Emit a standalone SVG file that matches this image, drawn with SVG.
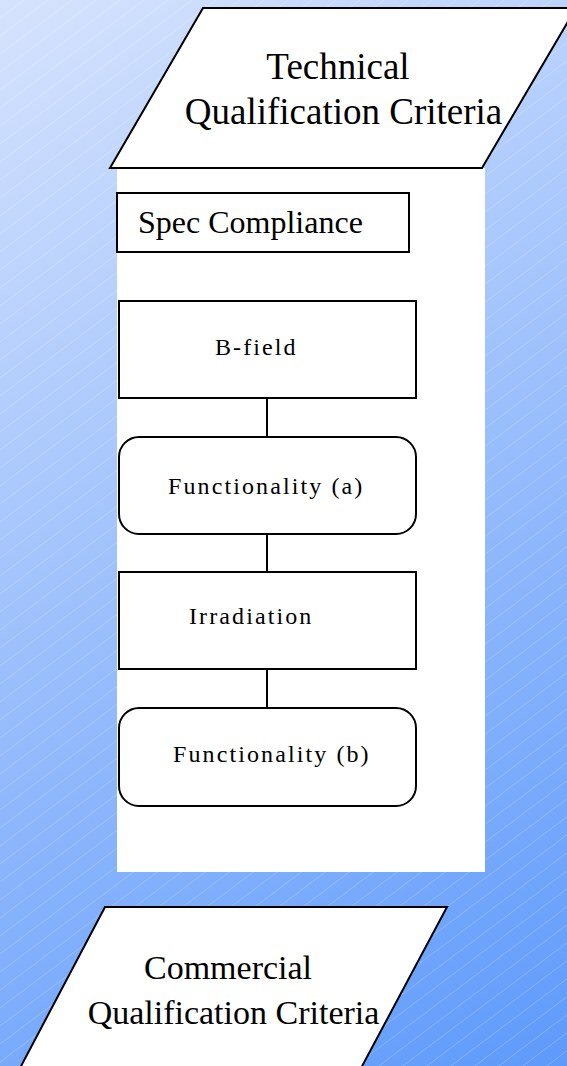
<svg xmlns="http://www.w3.org/2000/svg" width="567" height="1066" viewBox="0 0 567 1066">
<defs>
<linearGradient id="bg" gradientUnits="userSpaceOnUse" x1="0" y1="0" x2="567" y2="1066">
<stop offset="0" stop-color="#d6e3fd"/>
<stop offset="1" stop-color="#5e9afb"/>
</linearGradient>
<pattern id="hatch" patternUnits="userSpaceOnUse" width="24" height="18">
<line x1="-24" y1="36" x2="48" y2="-18" stroke="#ffffff" stroke-opacity="0.3" stroke-width="0.7"/>
</pattern>
<style>
.shape{fill:#ffffff;stroke:#000000;stroke-width:2}
.small{font-size:24px;letter-spacing:2.1px}
.conn{stroke:#000000;stroke-width:2;fill:none}
</style>
</defs>
<rect x="0" y="0" width="567" height="1066" fill="url(#bg)"/>
<rect x="0" y="0" width="567" height="1066" fill="url(#hatch)"/>
<rect x="117" y="168" width="368" height="704" fill="#ffffff"/>

<g font-family="'Liberation Serif', 'DejaVu Serif', serif" fill="#000000">
<g id="technical">
<polygon class="shape" points="203,8 576,8 482,168 110,168"/>
<text font-size="37" x="338" y="79" text-anchor="middle">Technical</text>
<text font-size="37" x="343.5" y="124" text-anchor="middle">Qualification Criteria</text>
</g>

<g id="spec">
<rect class="shape" x="117" y="193" width="292" height="59"/>
<text font-size="32" x="138" y="233">Spec Compliance</text>
</g>

<g id="connectors">
<line class="conn" x1="267" y1="398" x2="267" y2="437"/>
<line class="conn" x1="267" y1="534" x2="267" y2="572"/>
<line class="conn" x1="267" y1="669" x2="267" y2="708"/>
</g>

<g id="bfield">
<rect class="shape" x="119" y="301" width="297" height="97"/>
<text class="small" x="215" y="355">B-field</text>
</g>

<g id="func-a">
<rect class="shape" x="119" y="437" width="297" height="97" rx="20" ry="20"/>
<text class="small" x="168" y="494">Functionality (a)</text>
</g>

<g id="irradiation">
<rect class="shape" x="119" y="572" width="297" height="97"/>
<text class="small" x="189" y="624">Irradiation</text>
</g>

<g id="func-b">
<rect class="shape" x="119" y="708" width="297" height="98" rx="20" ry="20"/>
<text class="small" x="173" y="762">Functionality (b)</text>
</g>

<g id="commercial">
<polygon class="shape" points="105,907 447,907 360,1070 19,1070"/>
<text font-size="34" x="228" y="979" text-anchor="middle">Commercial</text>
<text font-size="34" x="233.5" y="1024" text-anchor="middle">Qualification Criteria</text>
</g>
</g>
</svg>
